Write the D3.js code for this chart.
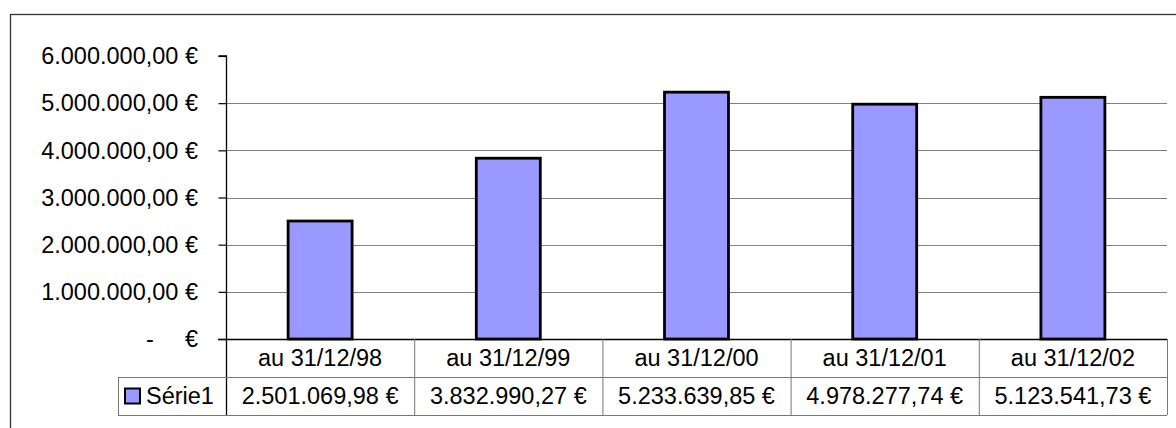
<!DOCTYPE html>
<html>
<head>
<meta charset="utf-8">
<script src="https://cdn.jsdelivr.net/npm/d3@7"></script>
<style>
  html, body { margin: 0; padding: 0; background: #fff; }
  svg { display: block; }
  text { font-family: "Liberation Sans", Arial, sans-serif; fill: #000; }
</style>
</head>
<body>
<script>
// ---- data ----
const categories = ["au 31/12/98", "au 31/12/99", "au 31/12/00", "au 31/12/01", "au 31/12/02"];
const seriesName = "Série1";
const values = [2501069.98, 3832990.27, 5233639.85, 4978277.74, 5123541.73];
const yTicks = [0, 1000000, 2000000, 3000000, 4000000, 5000000, 6000000];

const W = 1176, H = 428;
const fontSize = 23.5;
const barFill = "#9999ff";

const locale = d3.formatLocale({decimal: ",", thousands: ".", grouping: [3], currency: ["", " €"]});
const fmt = locale.format("$,.2f");

const svg = d3.select("body").append("svg").attr("width", W).attr("height", H);

// outer frame
svg.append("rect").attr("x", 10.5).attr("y", 14.5).attr("width", W + 20).attr("height", H + 20)
  .attr("fill", "none").attr("stroke", "#333").attr("stroke-width", 1.3);

const plotL = 226, plotR = 1167, plotTop = 56, plotBot = 339;
const rowH = 38;
const legendL = 118;

const x = d3.scaleBand().domain(categories).range([plotL, plotR]).paddingInner(0.66).paddingOuter(0.33);
const colScale = d3.scaleBand().domain(categories).range([plotL, plotR]).padding(0);
const y = d3.scaleLinear().domain([0, 6000000]).range([plotBot, plotTop]);

// gridlines (not at 0 or top)
svg.append("g").selectAll("line").data(yTicks.filter(d => d > 0 && d < 6000000)).join("line")
  .attr("x1", plotL).attr("x2", plotR)
  .attr("y1", d => Math.round(y(d)) + 0.5).attr("y2", d => Math.round(y(d)) + 0.5)
  .attr("stroke", "#808080").attr("stroke-width", 1);

// y axis
const yAxis = d3.axisLeft(y).tickValues(yTicks).tickSize(8).tickFormat("");
const gy = svg.append("g").attr("transform", `translate(${plotL + 0.5},0)`).call(yAxis);
gy.select(".domain").attr("stroke", "#000").attr("stroke-width", 1.3).attr("d", `M-8,${y(6000000)}H0V${plotBot + 2 * rowH}`);
gy.selectAll(".tick line").attr("stroke", "#000").attr("stroke-width", 1.2);

// tick labels
const tl = svg.append("g");
yTicks.forEach(t => {
  if (t === 0) {
    tl.append("text").attr("x", 146).attr("y", y(t)).attr("dy", "0.35em").attr("font-size", fontSize).text("-");
    tl.append("text").attr("x", 198).attr("y", y(t)).attr("dy", "0.35em").attr("text-anchor", "end").attr("font-size", fontSize).text("€");
  } else {
    tl.append("text").attr("x", 198).attr("y", y(t)).attr("dy", "0.35em").attr("text-anchor", "end").attr("font-size", fontSize).text(fmt(t));
  }
});

// bars
svg.append("g").selectAll("rect").data(values).join("rect")
  .attr("x", (d, i) => x(categories[i]))
  .attr("y", d => y(d))
  .attr("width", x.bandwidth())
  .attr("height", d => plotBot - y(d))
  .attr("fill", barFill).attr("stroke", "#000").attr("stroke-width", 2.8);

// x axis baseline
svg.append("line").attr("x1", plotL - 8).attr("x2", plotR).attr("y1", plotBot + 0.5).attr("y2", plotBot + 0.5)
  .attr("stroke", "#000").attr("stroke-width", 1.3);

// data table
const tg = svg.append("g");
const gridC = "#777";
tg.append("line").attr("x1", legendL).attr("x2", plotR).attr("y1", plotBot + rowH + 0.5).attr("y2", plotBot + rowH + 0.5).attr("stroke", gridC);
tg.append("line").attr("x1", legendL).attr("x2", plotR).attr("y1", plotBot + 2 * rowH + 0.5).attr("y2", plotBot + 2 * rowH + 0.5).attr("stroke", gridC);
tg.append("line").attr("x1", legendL + 0.5).attr("x2", legendL + 0.5).attr("y1", plotBot + rowH).attr("y2", plotBot + 2 * rowH).attr("stroke", gridC);
categories.forEach((c, i) => {
  const x1 = colScale(c) + colScale.bandwidth();
  tg.append("line").attr("x1", x1 + 0.5).attr("x2", x1 + 0.5).attr("y1", plotBot).attr("y2", plotBot + 2 * rowH).attr("stroke", gridC);
  const cx = colScale(c) + colScale.bandwidth() / 2;
  tg.append("text").attr("x", cx).attr("y", plotBot + rowH / 2).attr("dy", "0.35em").attr("text-anchor", "middle")
    .attr("font-size", fontSize).text(c);
  tg.append("text").attr("x", cx).attr("y", plotBot + rowH * 1.5).attr("dy", "0.35em").attr("text-anchor", "middle")
    .attr("font-size", fontSize).text(fmt(values[i]));
});
// legend key
tg.append("rect").attr("x", 125).attr("y", plotBot + rowH * 1.5 - 7.5).attr("width", 15).attr("height", 15)
  .attr("fill", barFill).attr("stroke", "#000").attr("stroke-width", 2);
tg.append("text").attr("x", 146).attr("y", plotBot + rowH * 1.5).attr("dy", "0.35em").attr("font-size", fontSize).text(seriesName);
</script>
</body>
</html>
